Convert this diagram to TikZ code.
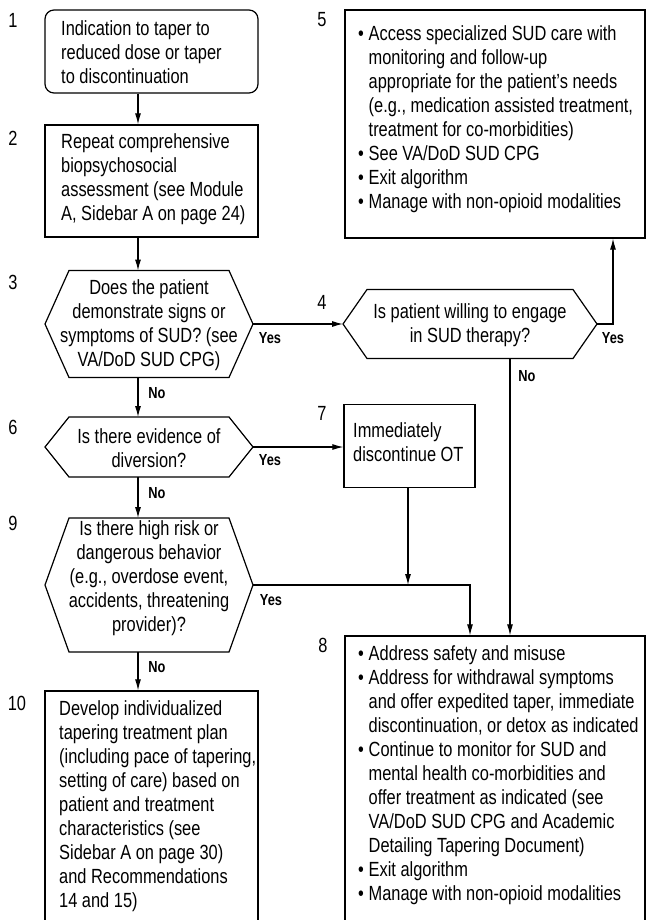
\documentclass[tikz,border=0pt]{standalone}
\usepackage{fontspec}
\setmainfont{Liberation Sans}[FakeStretch=0.80]
\usetikzlibrary{arrows.meta,calc}
\newcommand\bi{\makebox[10.5pt][l]{\textbullet}}
\newcommand\ci{\hspace*{10.5pt}}
\newcommand\hexnode[7]{%
  \coordinate (#1w) at (#2-#4,#3);
  \coordinate (#1e) at (#2+#4,#3);
  \coordinate (#1n) at (#2,#3-#5);
  \coordinate (#1s) at (#2,#3+#5);
  \draw[shapeline] (#1w) -- (#2-#4+24,#3-#5) -- (#2+#4-24,#3-#5) -- (#1e) -- (#2+#4-24,#3+#5) -- (#2-#4+24,#3+#5) -- cycle;
  \node[qtxt] (#1) at (#2,#3+#7) {#6};
}
\begin{document}
\begin{tikzpicture}[x=1pt,y=-1pt,
  every node/.style={font=\fontsize{20.5}{24}\selectfont, inner sep=0pt},
  boxshape/.style={draw, line width=1.2pt, inner sep=0pt},
  shapeline/.style={line width=1.2pt, line join=miter},
  txt/.style={align=left, anchor=west},
  qtxt/.style={align=center},
  lab/.style={font=\fontsize{16}{18}\selectfont\bfseries},
  num/.style={},
  arr/.style={-{Latex[length=11pt,width=6pt]}, line width=1.1pt},
  ln/.style={line width=1.1pt}]
\useasboundingbox (0,0) rectangle (654,920);
\fill[white] (0,0) rectangle (654,920);

% guide coordinates for vertical connectors
\coordinate (spine) at (138,0);
\coordinate (yesup) at (613,0);
\coordinate (noline) at (510,0);
\coordinate (sevenx) at (408,0);
\coordinate (mergex) at (470,0);

% Box 1
\node[boxshape, rounded corners=9pt, minimum width=213pt, minimum height=83pt] (b1) at (151.5,51.5) {};
\node[txt] (t1) at (61,52) {Indication to taper to\\reduced dose or taper\\to discontinuation};
% Box 2
\node[boxshape, minimum width=213pt, minimum height=112pt] (b2) at (151.5,181) {};
\node[txt] (t2) at (61,179) {Repeat comprehensive\\biopsychosocial\\assessment (see Module\\A, Sidebar A on page 24)};

% Hexagons
\hexnode{h3}{149}{324}{104}{53.5}{Does the patient\\demonstrate signs or\\symptoms of SUD? (see\\VA/DoD SUD CPG)}{1}
\hexnode{h4}{470}{324}{127}{34.5}{Is patient willing to engage\\in SUD therapy?}{1}
\hexnode{h6}{149}{447}{104}{30}{Is there evidence of\\diversion?}{1}
\hexnode{h9}{149}{585}{104}{67}{Is there high risk or\\dangerous behavior\\(e.g., overdose event,\\accidents, threatening\\provider)?}{-7}

% Box 5
\node[boxshape, minimum width=300pt, minimum height=228pt] (b5) at (495,124) {};
\node[txt] (t5) at (358,119) {\bi Access specialized SUD care with\\\ci monitoring and follow-up\\\ci appropriate for the patient’s needs\\\ci (e.g., medication assisted treatment,\\\ci treatment for co-morbidities)\\\bi See VA/DoD SUD CPG\\\bi Exit algorithm\\\bi Manage with non-opioid modalities};

% Box 7
\node[boxshape, minimum width=131pt, minimum height=83pt] (b7) at (409.5,446) {};
\node[txt] (t7) at (353,442) {Immediately\\discontinue OT};

% Box 8
\node[boxshape, minimum width=300pt, minimum height=294pt] (b8) at (495,783) {};
\node[txt] (t8) at (358,775) {\bi Address safety and misuse\\\bi Address for withdrawal symptoms\\\ci and offer expedited taper, immediate\\\ci discontinuation, or detox as indicated\\\bi Continue to monitor for SUD and\\\ci mental health co-morbidities and\\\ci offer treatment as indicated (see\\\ci VA/DoD SUD CPG and Academic\\\ci Detailing Tapering Document)\\\bi Exit algorithm\\\bi Manage with non-opioid modalities};

% Box 10
\node[boxshape, minimum width=213pt, minimum height=239pt] (b10) at (151.5,810.5) {};
\node[txt] (t10) at (59,806) {Develop individualized\\tapering treatment plan\\(including pace of tapering,\\setting of care) based on\\patient and treatment\\characteristics (see\\Sidebar A on page 30)\\and Recommendations\\14 and 15)};

% Step numbers
\node[num] (n1) at (13,20) {1};
\node[num] (n2) at (13,138) {2};
\node[num] (n3) at (13,282) {3};
\node[num] (n4) at (322,302) {4};
\node[num] (n5) at (322,20) {5};
\node[num] (n6) at (13,427) {6};
\node[num] (n7) at (322,413) {7};
\node[num] (n8) at (323,645) {8};
\node[num] (n9) at (13,523) {9};
\node[num] (n10) at (17,703) {10};

% Connectors
\draw[arr] (b1.south -| spine) -- (b2.north -| spine);
\draw[arr] (b2.south -| spine) -- (h3n -| spine);
\draw[arr] (h3s -| spine) -- (h6n -| spine);
\draw[arr] (h6s -| spine) -- (h9n -| spine);
\draw[arr] (h9s -| spine) -- (b10.north -| spine);
\draw[arr] (h3e) -- (h4w);
\draw[arr] (h4e) -| (yesup |- b5.south);
\draw[arr] (h4s -| noline) -- (b8.north -| noline);
\draw[arr] (h6e) -- (b7.west |- h6e);
\draw[arr] (b7.south -| sevenx) -- (sevenx |- h9e);
\draw[arr] (h9e) -| (mergex |- b8.north);

% Yes / No labels
\node[lab] (y3) at (270,338) {Yes};
\node[lab] (y4) at (613,338) {Yes};
\node[lab] (y6) at (270,460) {Yes};
\node[lab] (y9) at (271,600) {Yes};
\node[lab] (no3) at (157,393) {No};
\node[lab] (no4) at (527,376) {No};
\node[lab] (no6) at (157,493) {No};
\node[lab] (no9) at (157,667) {No};
\end{tikzpicture}
\end{document}
